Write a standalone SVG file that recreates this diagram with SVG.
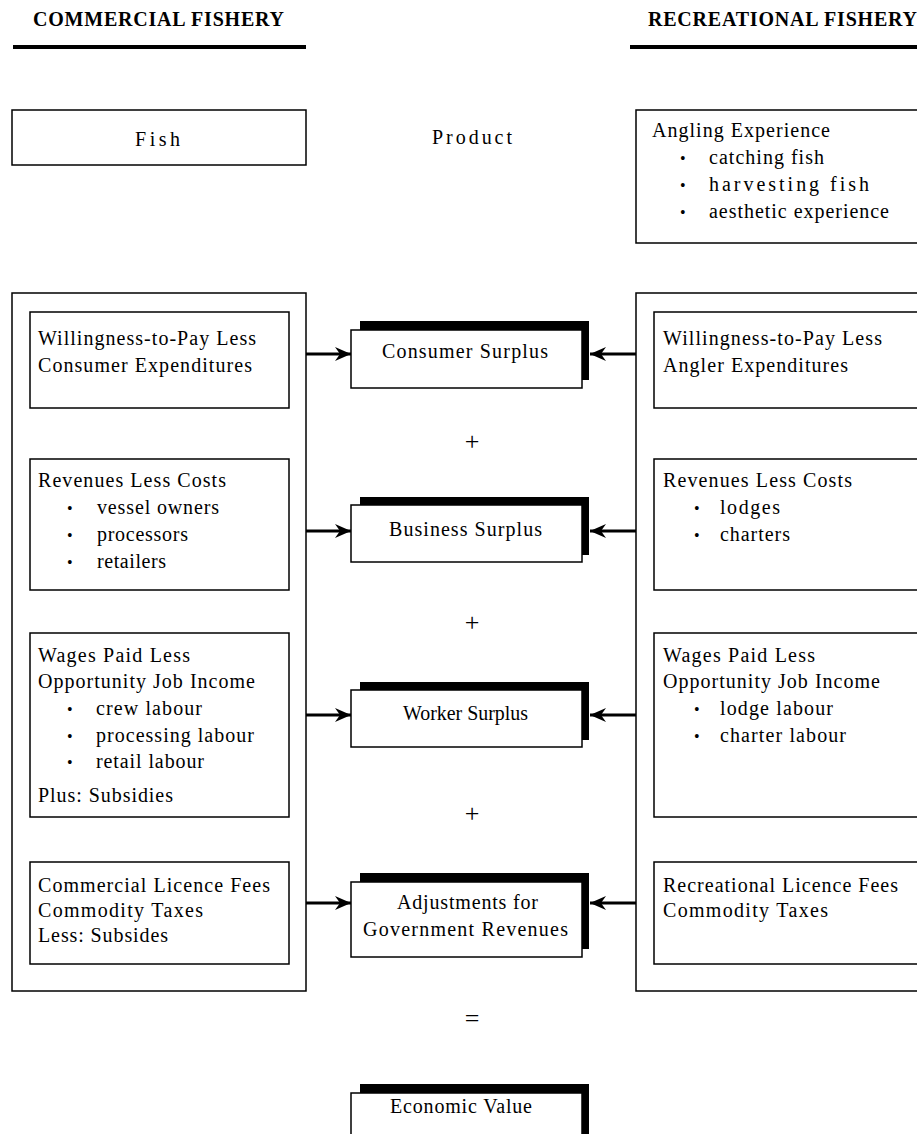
<svg xmlns="http://www.w3.org/2000/svg" width="917" height="1134" viewBox="0 0 917 1134">
<style>
  .bg { fill: #ffffff; }
  .box { fill: #ffffff; stroke: #000; stroke-width: 1.5; }
  .shadow { fill: #000; }
  .t { font-family: "Liberation Serif", "Times New Roman", serif; font-size: 20px; fill: #000; }
  .op { font-family: "Liberation Serif", "Times New Roman", serif; font-size: 26px; fill: #000; text-anchor: middle; }
  .h { font-family: "Liberation Serif", "Times New Roman", serif; font-size: 20px; font-weight: bold; fill: #000; }
  .b { font-family: "Liberation Serif", "Times New Roman", serif; font-size: 16px; fill: #000; }
  .rule { stroke: #000; stroke-width: 4; }
  .conn { stroke: #000; stroke-width: 3; fill: none; }
</style>
<defs>
  <marker id="ah" viewBox="0 0 16 14" refX="16" refY="7" markerWidth="16" markerHeight="14" orient="auto" markerUnits="userSpaceOnUse">
    <path d="M0,0 L16,7 L0,14 L5,7 z" fill="#000"/>
  </marker>
</defs>
<rect class="bg" x="0" y="0" width="917" height="1134"/>

<g id="header-commercial">
  <text class="h" x="33" y="26" textLength="251" lengthAdjust="spacing">COMMERCIAL FISHERY</text>
  <line class="rule" x1="13" y1="47" x2="306" y2="47"/>
</g>
<g id="header-recreational">
  <text class="h" x="648" y="26" textLength="269" lengthAdjust="spacing">RECREATIONAL FISHERY</text>
  <line class="rule" x1="630" y1="47" x2="920" y2="47"/>
</g>

<g id="fish">
  <rect class="box" x="12" y="110" width="294" height="55"/>
  <text class="t" x="135" y="146" textLength="45" lengthAdjust="spacing">Fish</text>
</g>
<g id="product">
  <text class="t" x="432" y="144" textLength="80" lengthAdjust="spacing">Product</text>
</g>
<g id="angling">
  <rect class="box" x="636" y="110" width="290" height="133"/>
  <text class="t" x="652" y="137" textLength="178" lengthAdjust="spacing">Angling Experience</text>
  <text class="b" x="680" y="164">•</text>
  <text class="t" x="709" y="164" textLength="115" lengthAdjust="spacing">catching fish</text>
  <text class="b" x="680" y="191">•</text>
  <text class="t" x="709" y="191" textLength="160" lengthAdjust="spacing">harvesting fish</text>
  <text class="b" x="680" y="218">•</text>
  <text class="t" x="709" y="218" textLength="180" lengthAdjust="spacing">aesthetic experience</text>
</g>

<g id="commercial-panel">
  <rect class="box" x="12" y="293" width="294" height="698"/>
</g>
<g id="recreational-panel">
  <rect class="box" x="636" y="293" width="290" height="698"/>
</g>

<g id="c-wtp">
  <rect class="box" x="30" y="312" width="259" height="96"/>
  <text class="t" x="38" y="345" textLength="218" lengthAdjust="spacing">Willingness-to-Pay Less</text>
  <text class="t" x="38" y="372" textLength="214" lengthAdjust="spacing">Consumer Expenditures</text>
</g>
<g id="c-revenues">
  <rect class="box" x="30" y="459" width="259" height="131"/>
  <text class="t" x="38" y="487" textLength="188" lengthAdjust="spacing">Revenues Less Costs</text>
  <text class="b" x="67" y="514">•</text>
  <text class="t" x="97" y="514" textLength="122" lengthAdjust="spacing">vessel owners</text>
  <text class="b" x="67" y="541">•</text>
  <text class="t" x="97" y="541" textLength="91" lengthAdjust="spacing">processors</text>
  <text class="b" x="67" y="568">•</text>
  <text class="t" x="97" y="568" textLength="69" lengthAdjust="spacing">retailers</text>
</g>
<g id="c-wages">
  <rect class="box" x="30" y="633" width="259" height="184"/>
  <text class="t" x="38" y="662" textLength="152" lengthAdjust="spacing">Wages Paid Less</text>
  <text class="t" x="38" y="688" textLength="217" lengthAdjust="spacing">Opportunity Job Income</text>
  <text class="b" x="67" y="715">•</text>
  <text class="t" x="96" y="715" textLength="106" lengthAdjust="spacing">crew labour</text>
  <text class="b" x="67" y="742">•</text>
  <text class="t" x="96" y="742" textLength="158" lengthAdjust="spacing">processing labour</text>
  <text class="b" x="67" y="768">•</text>
  <text class="t" x="96" y="768" textLength="108" lengthAdjust="spacing">retail labour</text>
  <text class="t" x="38" y="802" textLength="135" lengthAdjust="spacing">Plus: Subsidies</text>
</g>
<g id="c-licence">
  <rect class="box" x="30" y="862" width="259" height="102"/>
  <text class="t" x="38" y="892" textLength="232" lengthAdjust="spacing">Commercial Licence Fees</text>
  <text class="t" x="38" y="917" textLength="165" lengthAdjust="spacing">Commodity Taxes</text>
  <text class="t" x="38" y="942" textLength="130" lengthAdjust="spacing">Less: Subsides</text>
</g>

<g id="r-wtp">
  <rect class="box" x="654" y="312" width="270" height="96"/>
  <text class="t" x="663" y="345" textLength="219" lengthAdjust="spacing">Willingness-to-Pay Less</text>
  <text class="t" x="663" y="372" textLength="185" lengthAdjust="spacing">Angler Expenditures</text>
</g>
<g id="r-revenues">
  <rect class="box" x="654" y="459" width="270" height="131"/>
  <text class="t" x="663" y="487" textLength="189" lengthAdjust="spacing">Revenues Less Costs</text>
  <text class="b" x="694" y="514">•</text>
  <text class="t" x="720" y="514" textLength="60" lengthAdjust="spacing">lodges</text>
  <text class="b" x="694" y="541">•</text>
  <text class="t" x="720" y="541" textLength="70" lengthAdjust="spacing">charters</text>
</g>
<g id="r-wages">
  <rect class="box" x="654" y="633" width="270" height="184"/>
  <text class="t" x="663" y="662" textLength="152" lengthAdjust="spacing">Wages Paid Less</text>
  <text class="t" x="663" y="688" textLength="217" lengthAdjust="spacing">Opportunity Job Income</text>
  <text class="b" x="694" y="715">•</text>
  <text class="t" x="720" y="715" textLength="113" lengthAdjust="spacing">lodge labour</text>
  <text class="b" x="694" y="742">•</text>
  <text class="t" x="720" y="742" textLength="126" lengthAdjust="spacing">charter labour</text>
</g>
<g id="r-licence">
  <rect class="box" x="654" y="862" width="270" height="102"/>
  <text class="t" x="663" y="892" textLength="235" lengthAdjust="spacing">Recreational Licence Fees</text>
  <text class="t" x="663" y="917" textLength="165" lengthAdjust="spacing">Commodity Taxes</text>
</g>

<g id="consumer-surplus">
  <rect class="shadow" x="360" y="321" width="229" height="59"/>
  <rect class="box" x="351" y="330" width="231" height="58"/>
  <text class="t" x="382" y="358" textLength="166" lengthAdjust="spacing">Consumer Surplus</text>
</g>
<g id="business-surplus">
  <rect class="shadow" x="360" y="497" width="229" height="58"/>
  <rect class="box" x="351" y="505" width="231" height="57"/>
  <text class="t" x="389" y="536" textLength="153" lengthAdjust="spacing">Business Surplus</text>
</g>
<g id="worker-surplus">
  <rect class="shadow" x="360" y="682" width="229" height="58"/>
  <rect class="box" x="351" y="690" width="231" height="57"/>
  <text class="t" x="403" y="720" textLength="125" lengthAdjust="spacingAndGlyphs">Worker Surplus</text>
</g>
<g id="adjustments">
  <rect class="shadow" x="360" y="873" width="229" height="76"/>
  <rect class="box" x="351" y="882" width="231" height="75"/>
  <text class="t" x="397" y="909" textLength="141" lengthAdjust="spacing">Adjustments for</text>
  <text class="t" x="363" y="936" textLength="205" lengthAdjust="spacing">Government Revenues</text>
</g>
<g id="economic-value">
  <rect class="shadow" x="360" y="1084" width="229" height="60"/>
  <rect class="box" x="351" y="1093" width="231" height="60"/>
  <text class="t" x="390" y="1113" textLength="142" lengthAdjust="spacing">Economic Value</text>
</g>

<g id="operators">
  <text class="op" x="472" y="450">+</text>
  <text class="op" x="472" y="631">+</text>
  <text class="op" x="472" y="822">+</text>
  <text class="op" x="472" y="1027">=</text>
</g>

<g id="connectors">
  <line class="conn" x1="306" y1="354" x2="351" y2="354" marker-end="url(#ah)"/>
  <line class="conn" x1="636" y1="354" x2="590" y2="354" marker-end="url(#ah)"/>
  <line class="conn" x1="306" y1="531" x2="351" y2="531" marker-end="url(#ah)"/>
  <line class="conn" x1="636" y1="531" x2="590" y2="531" marker-end="url(#ah)"/>
  <line class="conn" x1="306" y1="715" x2="351" y2="715" marker-end="url(#ah)"/>
  <line class="conn" x1="636" y1="715" x2="590" y2="715" marker-end="url(#ah)"/>
  <line class="conn" x1="306" y1="903" x2="351" y2="903" marker-end="url(#ah)"/>
  <line class="conn" x1="636" y1="903" x2="590" y2="903" marker-end="url(#ah)"/>
</g>
</svg>
